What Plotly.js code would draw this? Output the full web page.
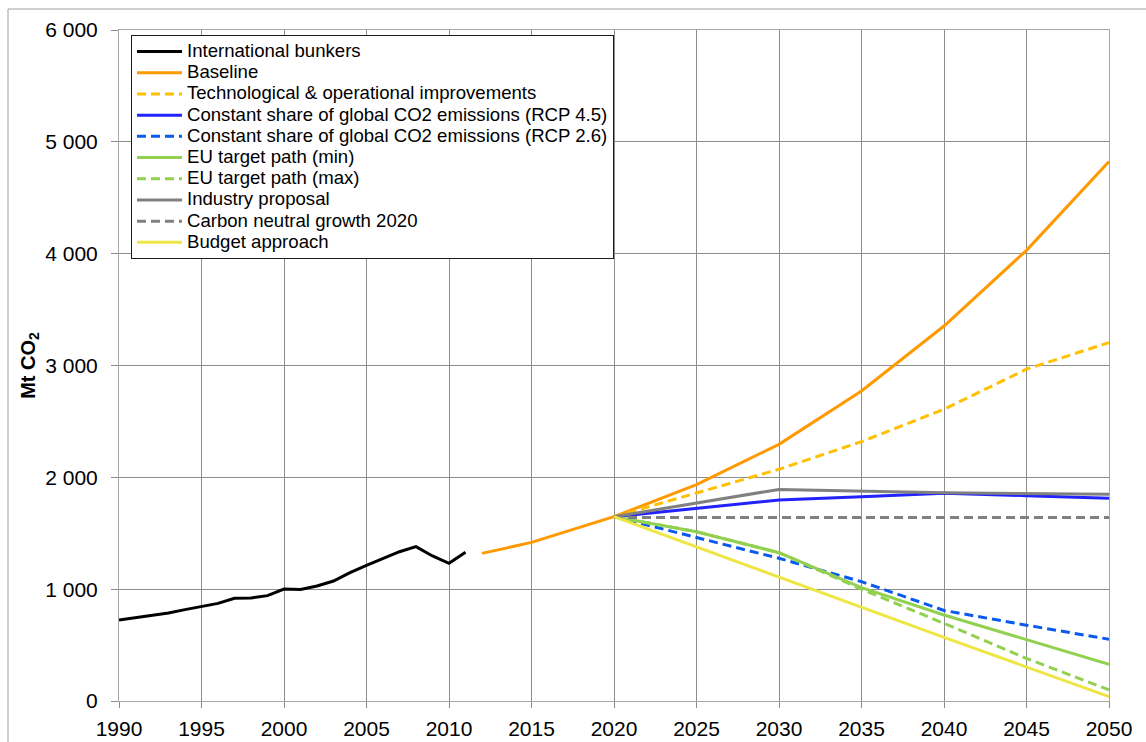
<!DOCTYPE html>
<html>
<head>
<meta charset="utf-8">
<script src="https://cdn.plot.ly/plotly-3.0.1.min.js"></script>
<style>
  html, body { margin: 0; padding: 0; background: #fff; }
  #chart { width: 1146px; height: 742px; }
</style>
</head>
<body>
<div id="chart"></div>
<script>
// ---- Data (Mt CO2) ----
const bunkerYears = [1990,1991,1992,1993,1994,1995,1996,1997,1998,1999,2000,2001,2002,2003,2004,2005,2006,2007,2008,2009,2010,2011];
const bunkerValues = [724,745,763,787,817,843,873,918,921,942,1001,998,1028,1073,1148,1213,1273,1335,1380,1297,1231,1330];

const baselineYears = [2012,2015,2020,2025,2030,2035,2040,2045,2050];
const baselineValues = [1320,1418,1648,1935,2295,2772,3353,4030,4823];

const techYears = [2020,2025,2030,2035,2040,2045,2050];
const techValues = [1648,1857,2072,2319,2609,2967,3205];

const rcp45Years = [2020,2030,2035,2040,2045,2050];
const rcp45Values = [1648,1797,1827,1857,1836,1812];

const rcp26Years = [2020,2030,2035,2040,2045,2050];
const rcp26Values = [1648,1276,1067,810,678,552];

const euMinYears = [2020,2025,2030,2035,2040,2045,2050];
const euMinValues = [1648,1514,1326,1013,769,548,328];

const euMaxYears = [2020,2025,2030,2035,2040,2045,2050];
const euMaxValues = [1648,1514,1326,1000,694,381,100];

const industryYears = [2020,2030,2040,2050];
const industryValues = [1648,1892,1862,1848];

const cngYears = [2020,2050];
const cngValues = [1640,1640];

const budgetYears = [2020,2030,2040,2050];
const budgetValues = [1648,1105,569,39];

const seriesNames = [
  "International bunkers",
  "Baseline",
  "Technological & operational improvements",
  "Constant share of global CO2 emissions (RCP 4.5)",
  "Constant share of global CO2 emissions (RCP 2.6)",
  "EU target path (min)",
  "EU target path (max)",
  "Industry proposal",
  "Carbon neutral growth 2020",
  "Budget approach"
];

// ---- Styles ----
const FONT = "Liberation Sans, Arial, sans-serif";
const DASH = "9px,5px";
const LW = 3;
function lbl(t) { return '<span style="font-size:18.6px">' + t + '</span>'; }
function tr(x, y, name, color, dash) {
  return { type: "scatter", mode: "lines", x: x, y: y, name: lbl(name),
           line: { color: color, width: LW, dash: dash || "solid" }, hoverinfo: "x+y" };
}

const data = [
  tr(bunkerYears, bunkerValues, seriesNames[0], "#000000"),
  tr(baselineYears, baselineValues, seriesNames[1], "#FF9900"),
  tr(techYears, techValues, seriesNames[2], "#FFC000", DASH),
  tr(rcp45Years, rcp45Values, seriesNames[3], "#2222FF"),
  tr(rcp26Years, rcp26Values, seriesNames[4], "#0A5AF0", DASH),
  tr(euMinYears, euMinValues, seriesNames[5], "#92D050"),
  tr(euMaxYears, euMaxValues, seriesNames[6], "#92D050", DASH),
  tr(industryYears, industryValues, seriesNames[7], "#808080"),
  tr(cngYears, cngValues, seriesNames[8], "#808080", DASH),
  tr(budgetYears, budgetValues, seriesNames[9], "#EEE645")
];

const GRID = "#8c8c8c";
const AXL = "#a6a6a6";

const layout = {
  width: 1146, height: 742,
  margin: { l: 119, r: 37, t: 30, b: 41, pad: 0 },
  paper_bgcolor: "#ffffff", plot_bgcolor: "#ffffff",
  font: { family: FONT, color: "#000000", size: 21 },
  separators: ", ",
  showlegend: true,
  legend: {
    x: 0.0121, y: 0.9926, xanchor: "left", yanchor: "top",
    bgcolor: "#ffffff", bordercolor: "#1a1a1a", borderwidth: 1,
    font: { family: FONT, size: 14, color: "#000" },
    itemwidth: 45,
    traceorder: "normal"
  },
  xaxis: {
    range: [1990, 2050], dtick: 5, tick0: 1990,
    showgrid: true, gridcolor: GRID, gridwidth: 1,
    showline: true, linecolor: AXL, linewidth: 1, mirror: true,
    ticks: "outside", ticklen: 6, tickcolor: GRID,
    ticklabelstandoff: 3,
    zeroline: false, tickfont: { family: FONT, size: 21 },
    fixedrange: true
  },
  yaxis: {
    range: [0, 6000], dtick: 1000, tick0: 0, tickformat: ",d",
    showgrid: true, gridcolor: GRID, gridwidth: 1,
    showline: true, linecolor: AXL, linewidth: 1, mirror: true,
    ticks: "outside", ticklen: 7, tickcolor: GRID,
    ticklabelstandoff: 9,
    zeroline: false, tickfont: { family: FONT, size: 21 },
    title: { text: "<b>Mt CO<sub>2</sub></b>", font: { family: FONT, size: 20 }, standoff: 4 },
    fixedrange: true
  },
  shapes: [{
    type: "rect", xref: "paper", yref: "paper", layer: "below",
    x0: (8 - 119) / 990, x1: (1160 - 119) / 990,
    y0: (701 - 760) / 671, y1: (701 - 9) / 671,
    line: { color: "#a0a0a0", width: 1 }, fillcolor: "rgba(0,0,0,0)"
  }]
};

Plotly.newPlot("chart", data, layout, { displayModeBar: false, staticPlot: true });
</script>
</body>
</html>
